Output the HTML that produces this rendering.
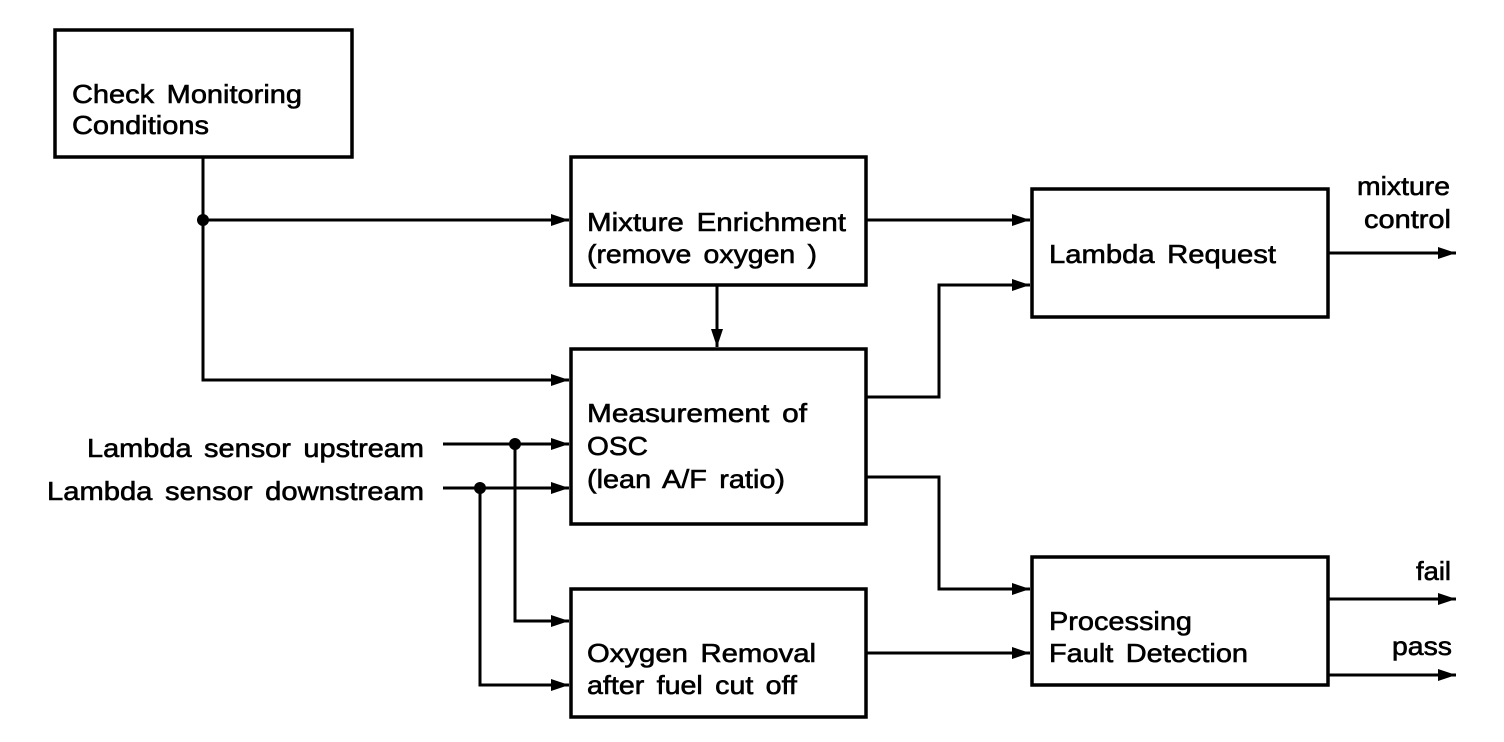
<!DOCTYPE html>
<html><head><meta charset="utf-8"><style>
html,body{margin:0;padding:0;background:#fff;}
svg{display:block;}
text{font-family:"Liberation Sans",Arial,sans-serif;font-size:26px;fill:#000;stroke:#000;stroke-width:0.6px;word-spacing:4px;}
</style></head><body>
<svg width="1504" height="742" viewBox="0 0 1504 742" xmlns="http://www.w3.org/2000/svg">
<defs>
<marker id="a" viewBox="0 0 18 12" refX="18" refY="6" markerWidth="18" markerHeight="12" markerUnits="userSpaceOnUse" orient="auto">
<path d="M0,0 L18,6 L0,12 Z" fill="#000"/></marker>
</defs>
<g fill="none" stroke="#000" stroke-width="3.5">
<rect x="55" y="30" width="297" height="127"/>
<rect x="571" y="157" width="295" height="128"/>
<rect x="1032" y="189" width="296" height="128"/>
<rect x="571" y="349" width="295" height="175"/>
<rect x="571" y="589" width="295" height="128"/>
<rect x="1032" y="557" width="296" height="128"/>
</g>
<g fill="none" stroke="#000" stroke-width="3">
<path d="M203,157 V380 H569" marker-end="url(#a)"/>
<path d="M203,220 H569" marker-end="url(#a)"/>
<path d="M866,220 H1030" marker-end="url(#a)"/>
<path d="M717,285 V347" marker-end="url(#a)"/>
<path d="M866,397 H939 V285 H1030" marker-end="url(#a)"/>
<path d="M866,477 H939 V589 H1030" marker-end="url(#a)"/>
<path d="M866,653 H1030" marker-end="url(#a)"/>
<path d="M1328,253 H1456" marker-end="url(#a)"/>
<path d="M1328,599 H1456" marker-end="url(#a)"/>
<path d="M1328,675 H1456" marker-end="url(#a)"/>
<path d="M443,444 H569" marker-end="url(#a)"/>
<path d="M443,488 H569" marker-end="url(#a)"/>
<path d="M515,444 V621 H569" marker-end="url(#a)"/>
<path d="M480,488 V685 H569" marker-end="url(#a)"/>
</g>
<g fill="#000">
<circle cx="203" cy="220" r="6"/>
<circle cx="515" cy="444" r="6"/>
<circle cx="480" cy="488" r="6"/>
</g>
<g>
<text x="72" y="103" textLength="230" lengthAdjust="spacingAndGlyphs">Check Monitoring</text>
<text x="72" y="134" textLength="137" lengthAdjust="spacingAndGlyphs">Conditions</text>
<text x="587" y="231" textLength="259" lengthAdjust="spacingAndGlyphs">Mixture Enrichment</text>
<text x="587" y="263" textLength="230" lengthAdjust="spacingAndGlyphs">(remove oxygen )</text>
<text x="1049" y="263" textLength="227" lengthAdjust="spacingAndGlyphs">Lambda Request</text>
<text x="587" y="422" textLength="220" lengthAdjust="spacingAndGlyphs">Measurement of</text>
<text x="587" y="455" textLength="61" lengthAdjust="spacingAndGlyphs">OSC</text>
<text x="587" y="488" textLength="198" lengthAdjust="spacingAndGlyphs">(lean A/F ratio)</text>
<text x="587" y="662" textLength="229" lengthAdjust="spacingAndGlyphs">Oxygen Removal</text>
<text x="587" y="694" textLength="210" lengthAdjust="spacingAndGlyphs">after fuel cut off</text>
<text x="1049" y="630" textLength="143" lengthAdjust="spacingAndGlyphs">Processing</text>
<text x="1049" y="662" textLength="199" lengthAdjust="spacingAndGlyphs">Fault Detection</text>
<text x="87" y="457" textLength="337" lengthAdjust="spacingAndGlyphs">Lambda sensor upstream</text>
<text x="47" y="500" textLength="377" lengthAdjust="spacingAndGlyphs">Lambda sensor downstream</text>
<text x="1357" y="195" textLength="93" lengthAdjust="spacingAndGlyphs">mixture</text>
<text x="1364" y="228" textLength="87" lengthAdjust="spacingAndGlyphs">control</text>
<text x="1416" y="580" textLength="35" lengthAdjust="spacingAndGlyphs">fail</text>
<text x="1392" y="655" textLength="60" lengthAdjust="spacingAndGlyphs">pass</text>
</g>
</svg>
</body></html>
